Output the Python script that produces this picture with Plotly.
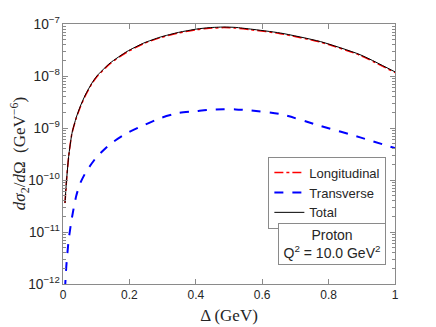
import plotly.graph_objects as go

# Delta (GeV) sample points
delta = [0.006, 0.010, 0.017, 0.027, 0.040, 0.052, 0.067, 0.087, 0.102, 0.142,
         0.193, 0.243, 0.293, 0.348, 0.403, 0.440, 0.484, 0.520, 0.564, 0.655,
         0.775, 0.895, 1.000]

# d sigma_2 / d Omega (GeV^-6)
total = [3.6e-11, 8.7e-11, 2.8e-10, 7.9e-10, 1.6e-9, 2.6e-9, 4.3e-9, 7.3e-9, 1.0e-8, 1.78e-8,
         2.97e-8, 4.3e-8, 5.6e-8, 6.9e-8, 8.0e-8, 8.5e-8, 8.75e-8, 8.6e-8, 8.0e-8, 6.7e-8,
         4.6e-8, 2.57e-8, 1.2e-8]
longitudinal = [3.6e-11, 8.7e-11, 2.8e-10, 7.9e-10, 1.55e-9, 2.5e-9, 4.15e-9, 7.1e-9, 9.7e-9, 1.73e-8,
                2.89e-8, 4.19e-8, 5.45e-8, 6.7e-8, 7.79e-8, 8.27e-8, 8.52e-8, 8.37e-8, 7.78e-8, 6.52e-8,
                4.49e-8, 2.5e-8, 1.16e-8]
transverse = [8e-13, 2.2e-12, 7e-12, 1.9e-11, 5e-11, 8.7e-11, 1.35e-10, 2.1e-10, 2.8e-10, 4.9e-10,
              8.0e-10, 1.13e-9, 1.55e-9, 1.94e-9, 2.12e-9, 2.25e-9, 2.3e-9, 2.28e-9, 2.18e-9, 1.85e-9,
              1.1e-9, 6.6e-10, 4.1e-10]

fig = go.Figure()
fig.add_trace(go.Scatter(x=delta, y=longitudinal, mode="lines", name="Longitudinal",
                         line=dict(color="red", width=1.5, dash="dashdot", shape="spline", smoothing=0.6)))
fig.add_trace(go.Scatter(x=delta, y=transverse, mode="lines", name="Transverse",
                         line=dict(color="blue", width=2, dash="dash", shape="spline", smoothing=0.6)))
fig.add_trace(go.Scatter(x=delta, y=total, mode="lines", name="Total",
                         line=dict(color="black", width=1, shape="spline", smoothing=0.6)))

axis_col = "#8a8a8a"
fig.update_xaxes(range=[0, 1], dtick=0.2, ticks="inside", ticklen=5, tickcolor=axis_col,
                 showline=True, linecolor=axis_col, mirror="ticks", showgrid=False, zeroline=False,
                 automargin=False,
                 tickfont=dict(family="Liberation Sans", size=12, color="#262626"),
                 title=dict(text="Δ (GeV)", font=dict(family="Liberation Serif", size=17, color="#262626"),
                            standoff=7))
fig.update_yaxes(type="log", range=[-12, -7], dtick=1, exponentformat="power", showexponent="all",
                 ticks="inside", ticklen=5, tickcolor=axis_col,
                 minor=dict(ticks="inside", ticklen=3, tickcolor=axis_col, dtick="D1"),
                 showline=True, linecolor=axis_col, mirror="ticks", showgrid=False, zeroline=False,
                 automargin=False,
                 tickfont=dict(family="Liberation Sans", size=11, color="#262626"))

# y title as a rotated annotation so it can sit at the far left edge
fig.add_annotation(xref="paper", yref="paper", x=-0.132, y=0.5, xanchor="center", yanchor="middle",
                   showarrow=False, textangle=-90,
                   text="<i>dσ</i><sub>2</sub>/<i>d</i>Ω  (GeV<sup>−6</sup>)",
                   font=dict(family="Liberation Serif", size=17, color="#262626"))

fig.add_annotation(xref="paper", yref="paper", x=0.81, y=0.152, xanchor="center", yanchor="middle",
                   showarrow=False,
                   text="Proton<br>Q<sup>2</sup> = 10.0 GeV<sup>2</sup>",
                   font=dict(family="Liberation Sans", size=14, color="#262626"),
                   bordercolor=axis_col, borderwidth=1, borderpad=3, bgcolor="white", width=100)

# page body has an 8px margin, so the figure is shrunk to fit the window
fig.update_layout(
    width=428, height=319,
    margin=dict(l=55, r=41, t=16, b=43),
    plot_bgcolor="white", paper_bgcolor="white",
    legend=dict(x=0.974, y=0.49, xanchor="right", yanchor="top",
                bordercolor=axis_col, borderwidth=1, bgcolor="white",
                font=dict(family="Liberation Sans", size=13, color="#262626"),
                tracegroupgap=0, itemwidth=30),
    showlegend=True,
)

fig.write_html("out.html")
